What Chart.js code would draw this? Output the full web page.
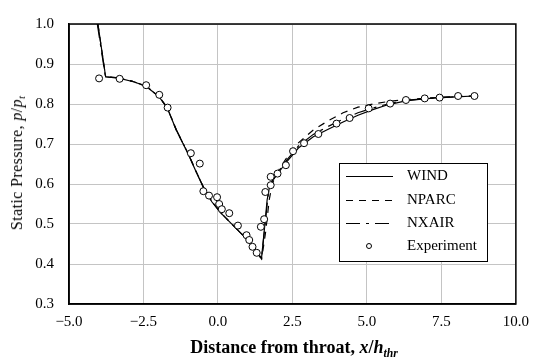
<!DOCTYPE html>
<html>
<head>
<meta charset="utf-8">
<script src="https://cdn.jsdelivr.net/npm/chart.js@4.4.1/dist/chart.umd.min.js"></script>
<style>
  body { margin: 0; background: #fff; }
  #wrap { position: relative; width: 538px; height: 363px; }
  #chart { position: absolute; left: 0; top: 0; }
  .title { position: absolute; white-space: nowrap; line-height: 1; color: #000; font-family: "Liberation Serif", "Times New Roman", serif; }
  .ytitle { left: 17px; top: 163px; font-size: 16px; letter-spacing: 0.4px; transform: translate(-50%, -50%) rotate(-90deg); }
  .xtitle { left: 294px; top: 347px; font-size: 18px; font-weight: bold; transform: translate(-50%, -50%); }
  .title sub { font-size: 65%; vertical-align: -0.3em; line-height: 0; }
</style>
</head>
<body>
<div id="wrap">
  <canvas id="chart" width="538" height="363"></canvas>
  <div class="title ytitle">Static Pressure, <i>p</i>/<i>p<sub>t</sub></i></div>
  <div class="title xtitle">Distance from throat, <i>x</i>/<i>h<sub>thr</sub></i></div>
</div>
<script>
// x/h_thr and p/p_t values
const windX = [-4.03, -3.77, -3.3, -2.8, -2.4, -2.0, -1.7, -1.4, -1.0, -0.7, -0.45, -0.2, 0.1, 0.5, 0.9, 1.2, 1.46, 1.55, 1.65, 1.75, 2.0, 2.3, 2.7, 3.2, 3.7, 4.2, 4.7, 5.2, 5.7, 6.3, 6.9, 7.5, 8.0, 8.6];
const windP = [1.0, 0.868, 0.864, 0.855, 0.843, 0.82, 0.79, 0.735, 0.675, 0.625, 0.585, 0.555, 0.527, 0.497, 0.467, 0.44, 0.413, 0.48, 0.56, 0.6, 0.625, 0.655, 0.69, 0.718, 0.737, 0.755, 0.772, 0.786, 0.798, 0.808, 0.813, 0.816, 0.818, 0.82];

const nparcX = [-4.03, -3.77, -3.3, -2.8, -2.4, -2.0, -1.7, -1.4, -1.0, -0.7, -0.45, -0.2, 0.1, 0.5, 0.9, 1.2, 1.47, 1.6, 1.72, 1.82, 2.0, 2.3, 2.7, 3.2, 3.7, 4.2, 4.7, 5.2, 5.7, 6.3, 6.9, 7.5, 8.0, 8.6];
const nparcP = [1.0, 0.868, 0.864, 0.855, 0.842, 0.82, 0.79, 0.735, 0.676, 0.626, 0.586, 0.556, 0.528, 0.498, 0.468, 0.441, 0.414, 0.48, 0.56, 0.6, 0.63, 0.665, 0.703, 0.735, 0.758, 0.778, 0.792, 0.8, 0.806, 0.811, 0.814, 0.817, 0.819, 0.82];

const nxairX = [-4.05, -3.78, -3.3, -2.8, -2.4, -2.0, -1.7, -1.4, -1.0, -0.7, -0.45, -0.2, 0.1, 0.5, 0.9, 1.2, 1.46, 1.57, 1.68, 1.78, 2.0, 2.3, 2.7, 3.2, 3.7, 4.2, 4.7, 5.2, 5.7, 6.3, 6.9, 7.5, 8.0, 8.6];
const nxairP = [1.0, 0.869, 0.865, 0.856, 0.844, 0.821, 0.791, 0.736, 0.676, 0.626, 0.586, 0.556, 0.528, 0.497, 0.467, 0.44, 0.413, 0.49, 0.57, 0.603, 0.627, 0.659, 0.695, 0.724, 0.744, 0.762, 0.778, 0.79, 0.8, 0.809, 0.813, 0.816, 0.818, 0.82];

const expX = [-3.99, -3.30, -2.41, -1.97, -1.69, -0.91, -0.61, -0.49, -0.30, -0.03, 0.04, 0.13, 0.38, 0.67, 0.96, 1.05, 1.16, 1.30, 1.44, 1.55, 1.59, 1.77, 1.77, 2.0, 2.28, 2.52, 2.89, 3.37, 3.98, 4.42, 5.06, 5.78, 6.31, 6.94, 7.44, 8.06, 8.61];
const expP = [0.864, 0.863, 0.847, 0.823, 0.791, 0.677, 0.651, 0.582, 0.571, 0.567, 0.550, 0.537, 0.527, 0.496, 0.472, 0.460, 0.443, 0.428, 0.493, 0.512, 0.580, 0.597, 0.618, 0.626, 0.647, 0.682, 0.702, 0.725, 0.751, 0.765, 0.789, 0.801, 0.810, 0.814, 0.816, 0.820, 0.820];

const serif = '"Liberation Serif", "Times New Roman", serif';

function pts(xs, ys) {
  return xs.map((x, i) => ({ x: x, y: ys[i] }));
}

function lineSet(label, xs, ys, dash) {
  return {
    label: label,
    data: pts(xs, ys),
    showLine: true,
    borderColor: '#000',
    borderWidth: 1.2,
    borderDash: dash,
    pointRadius: 0,
    fill: false,
    tension: 0,
    order: 1
  };
}

// frame around the plot and the boxed legend inside it
const framePlugin = {
  id: 'frame',
  afterDraw(chart) {
    const ctx = chart.ctx;
    const a = chart.chartArea;
    ctx.save();
    ctx.strokeStyle = '#000';
    ctx.lineWidth = 1.5;
    ctx.strokeRect(a.left, a.top, a.right - a.left, a.bottom - a.top);

    const bx = 339, by = 163, bw = 148, bh = 98;
    ctx.fillStyle = '#fff';
    ctx.fillRect(bx, by, bw, bh);
    ctx.lineWidth = 1;
    ctx.strokeRect(bx + 0.5, by + 0.5, bw, bh);

    ctx.font = '15px ' + serif;
    ctx.textBaseline = 'middle';
    ctx.fillStyle = '#000';
    const rowY = [176, 200, 223, 246];
    chart.data.datasets.forEach(ds => {
      const row = ['WIND', 'NPARC', 'NXAIR', 'Experiment'].indexOf(ds.label);
      const y = rowY[row];
      if (ds.showLine) {
        ctx.beginPath();
        ctx.setLineDash(ds.borderDash || []);
        ctx.lineWidth = 1.2;
        ctx.moveTo(346, y + 0.5);
        ctx.lineTo(393, y + 0.5);
        ctx.stroke();
        ctx.setLineDash([]);
      } else {
        ctx.beginPath();
        ctx.lineWidth = 1;
        ctx.arc(369, y, 2.5, 0, Math.PI * 2);
        ctx.stroke();
      }
      ctx.fillText(ds.label, 407, y);
    });
    ctx.restore();
  }
};

const tickFont = { family: serif, size: 15 };
const fmt = v => (v < 0 ? '\u2212' : '') + Math.abs(v).toFixed(1);

new Chart(document.getElementById('chart'), {
  type: 'scatter',
  data: {
    datasets: [
      {
        label: 'Experiment',
        data: pts(expX, expP),
        showLine: false,
        pointStyle: 'circle',
        pointRadius: 3.5,
        pointBorderWidth: 1,
        pointBorderColor: '#000',
        pointBackgroundColor: '#fff',
        order: 0
      },
      lineSet('WIND', windX, windP, []),
      lineSet('NPARC', nparcX, nparcP, [7, 6]),
      lineSet('NXAIR', nxairX, nxairP, [14, 6, 3, 6])
    ]
  },
  options: {
    responsive: false,
    animation: false,
    layout: { padding: { top: 23, right: 19, left: 0, bottom: 0 } },
    plugins: { legend: { display: false }, tooltip: { enabled: false } },
    scales: {
      x: {
        type: 'linear',
        min: -5,
        max: 10,
        ticks: { stepSize: 2.5, callback: v => fmt(v), color: '#000', font: tickFont, padding: 9, maxRotation: 0 },
        grid: { color: '#c4c4c4', drawTicks: false },
        border: { color: '#000', width: 1.5 },
        afterFit: s => { s.height = 59; }
      },
      y: {
        min: 0.3,
        max: 1.0,
        ticks: { stepSize: 0.1, callback: v => v.toFixed(1), color: '#000', font: tickFont, padding: 15 },
        grid: { color: '#c4c4c4', drawTicks: false },
        border: { color: '#000', width: 1.5 },
        afterFit: s => { s.width = 69; }
      }
    }
  },
  plugins: [framePlugin]
});
</script>
</body>
</html>
